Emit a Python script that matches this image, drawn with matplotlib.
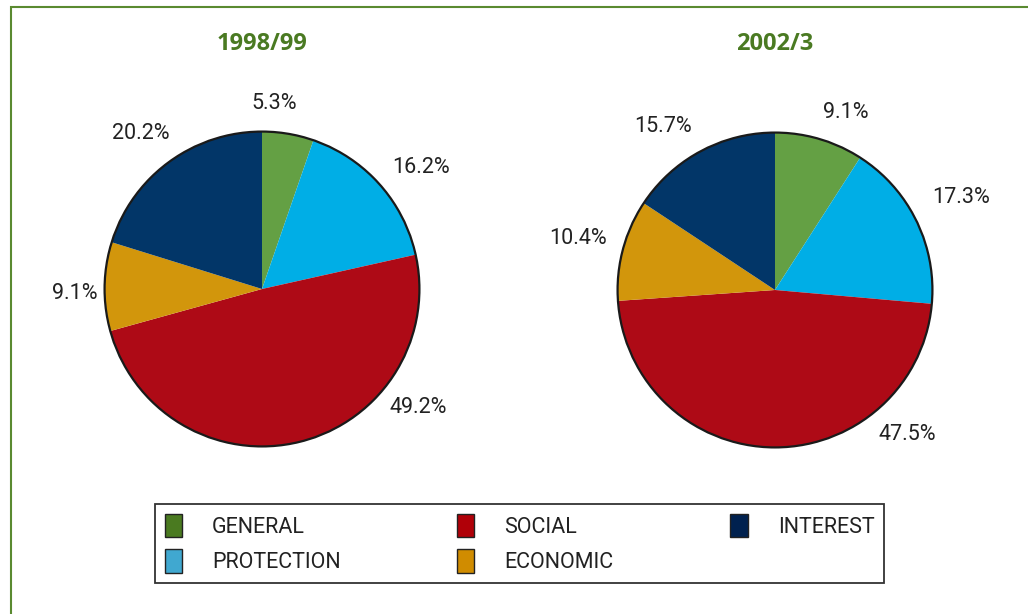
from matplotlib import pyplot as plt
from matplotlib.patches import Rectangle, Circle, Patch

# data
categories = ['GENERAL', 'PROTECTION', 'SOCIAL', 'ECONOMIC', 'INTEREST']
share_1998 = [5.3, 16.2, 49.2, 9.1, 20.2]
share_2002 = [9.1, 17.3, 47.5, 10.4, 15.7]
titles = ['1998/99', '2002/3']

pie_colors = ['#64a044', '#00aee6', '#ae0a16', '#d2960c', '#023668']
legend_colors = ['#4a7a20', '#40a8d0', '#b00008', '#d08c00', '#00214f']

# label offsets (in pie radius units), as placed in the original
label_pos_1998 = [(0.08, 1.18), (1.01, 0.77), (0.99, -0.75), (-1.19, -0.03), (-0.77, 0.99)]
label_pos_2002 = [(0.45, 1.13), (1.18, 0.59), (0.84, -0.92), (-1.25, 0.33), (-0.71, 1.04)]

W, H = 1028, 614
fig = plt.figure(figsize=(W / 100, H / 100), dpi=100)

# green frame running off the right and bottom edges
fig.patches.append(Rectangle((11 / W, -0.05), 1.1, 1 - 7 / H + 0.05, transform=fig.transFigure,
                             fill=False, edgecolor='#5a8a30', linewidth=1.5))

def draw_pie(cx, cy, r, values, label_pos, title):
    ax = fig.add_axes([(cx - r) / W, (H - cy - r) / H, 2 * r / W, 2 * r / H])
    wedges, texts = ax.pie(values, labels=[f'{v}%' for v in values], colors=pie_colors,
                           startangle=90, counterclock=False, radius=1,
                           wedgeprops=dict(linewidth=0))
    for t, pos in zip(texts, label_pos):
        t.set_position(pos)
        t.set_ha('center')
        t.set_va('center')
        t.set_fontsize(15.5)
        t.set_fontfamily('Roboto')
        t.set_color('#222222')
    ax.add_patch(Circle((0, 0), 1, fill=False, edgecolor='#1a1a1a', linewidth=1.6))
    ax.set_xlim(-1.01, 1.01)
    ax.set_ylim(-1.01, 1.01)
    ax.set_aspect('equal')
    ax.axis('off')
    fig.text(cx / W, 1 - 44 / H, title, ha='center', va='center', fontsize=17,
             fontweight='bold', color='#4a7a22', family='Open Sans')

draw_pie(262, 289, 159, share_1998, label_pos_1998, titles[0])
draw_pie(775, 290, 159, share_2002, label_pos_2002, titles[1])

handles = [Patch(facecolor=c, edgecolor='#222222', linewidth=1) for c in legend_colors]
leg = fig.legend(handles, categories, loc='center', ncol=3, mode='expand',
                 bbox_to_anchor=(155 / W, 1 - 584 / H, 729 / W, 81 / H),
                 prop={'family': 'Roboto', 'size': 15.5}, fancybox=False, framealpha=1,
                 handlelength=0.8, handleheight=1.3, handletextpad=1.4,
                 labelspacing=0.55, borderpad=0.45, borderaxespad=0, columnspacing=1.0)
leg.get_frame().set_edgecolor('#333333')
leg.get_frame().set_linewidth(1.3)
for t in leg.get_texts():
    t.set_color('#222222')

fig.savefig('out.png', dpi=100)
